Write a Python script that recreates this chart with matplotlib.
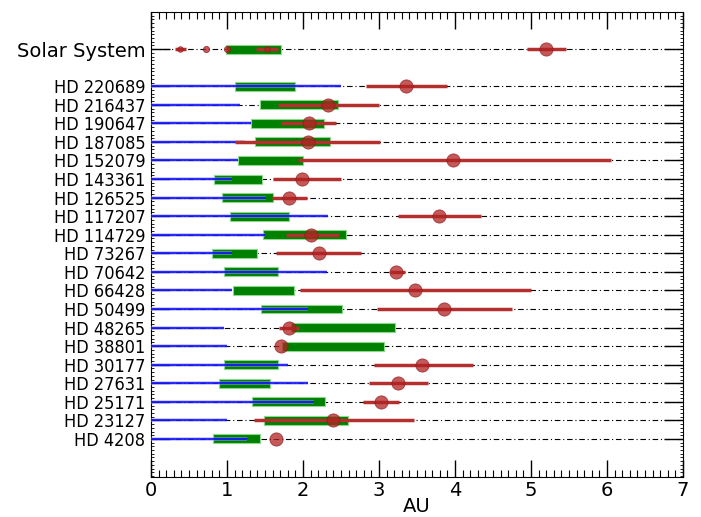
import matplotlib
matplotlib.use("Agg")
import matplotlib.pyplot as plt
from matplotlib.ticker import MultipleLocator
from matplotlib import font_manager

# ---- data (bottom to top) ----
stars = ["HD 4208", "HD 23127", "HD 25171", "HD 27631", "HD 30177", "HD 38801",
         "HD 48265", "HD 50499", "HD 66428", "HD 70642", "HD 73267", "HD 114729",
         "HD 117207", "HD 126525", "HD 143361", "HD 152079", "HD 187085",
         "HD 190647", "HD 216437", "HD 220689", "Solar System"]
star_y = list(range(1, 21)) + [22]

hz_inner = [0.82, 1.49, 1.33, 0.90, 0.96, 1.72, 1.84, 1.45, 1.08, 0.96, 0.80, 1.48,
            1.04, 0.93, 0.83, 1.15, 1.37, 1.31, 1.43, 1.10, 0.99]
hz_outer = [1.43, 2.59, 2.29, 1.56, 1.67, 3.07, 3.21, 2.51, 1.88, 1.67, 1.40, 2.56,
            1.81, 1.61, 1.46, 2.00, 2.36, 2.28, 2.46, 1.89, 1.71]
# inner stable region extent (blue), exoplanet systems only
blue_outer = [1.26, 1.00, 2.15, 2.06, 1.80, 1.00, 0.96, 2.06, 1.06, 2.31, 1.06, 1.50,
              2.33, 1.51, 1.06, 1.15, 1.24, 1.31, 1.17, 2.50]

# planets: row index, semi-major axis, periastron, apastron, marker size
planet_row = [0, 1, 2, 3, 4, 5, 6, 7, 8, 9, 10, 11, 12, 13, 14, 15, 16, 17, 18, 19,
              20, 20, 20, 20, 20]
planet_a = [1.65, 2.40, 3.02, 3.25, 3.57, 1.71, 1.82, 3.86, 3.47, 3.23, 2.21, 2.11,
            3.79, 1.82, 1.99, 3.98, 2.06, 2.08, 2.33, 3.36,
            0.387, 0.723, 1.00, 1.524, 5.20]
planet_peri = [1.65, 1.36, 2.79, 2.87, 2.93, 1.71, 1.68, 2.98, 1.96, 3.14, 1.64, 1.77,
               3.25, 1.59, 1.61, 1.93, 1.10, 1.71, 1.67, 2.83,
               0.31, 0.718, 0.983, 1.38, 4.95]
planet_apo = [1.65, 3.46, 3.26, 3.64, 4.24, 1.71, 1.95, 4.75, 5.00, 3.34, 2.76, 2.47,
              4.34, 2.05, 2.50, 6.05, 3.01, 2.44, 3.00, 3.90,
              0.467, 0.728, 1.017, 1.67, 5.46]
planet_ms = [9.5] * 20 + [4.0, 4.5, 4.5, 4.0, 9.5]

red = "#b22222"
line_red = "#b3302f"

fig = plt.figure(figsize=(7.01, 5.17), dpi=100)
ax = fig.add_axes([0.2154, 0.0774, 0.7589, 0.8994])

# dash-dot guide lines
for y in star_y:
    ax.plot([0, 7], [y, y], ls=(0, (5, 2.5, 1, 2.5)), color="black", lw=0.8,
            zorder=1)

# habitable zones
for y, a, b in zip(star_y, hz_inner, hz_outer):
    ax.barh(y, b - a, left=a, height=0.48, color="green",
            edgecolor=(0.55, 0.85, 0.55), lw=0.8, zorder=2)

# blue stable regions
for y, b in zip(star_y[:20], blue_outer):
    ax.plot([0, b], [y, y], color=(0.6, 0.6, 1.0), lw=2.6, alpha=0.6, zorder=3,
            solid_capstyle="butt")
    ax.plot([0, b], [y, y], color="blue", lw=1.1, zorder=3.1,
            solid_capstyle="butt")

# planets
for r, a, p, q, ms in zip(planet_row, planet_a, planet_peri, planet_apo, planet_ms):
    y = star_y[r]
    if q > p:
        ax.plot([p, q], [y, y], color=line_red, lw=2.5, zorder=4,
                solid_capstyle="butt")
    ax.plot(a, y, "o", ms=ms, mfc=red, mec="#8b1a1a", mew=0.6, alpha=0.75,
            zorder=5)

ax.set_xlim(0, 7)
ax.set_ylim(-1.05, 24)
ax.set_yticks(star_y)
ax.set_yticklabels(stars)
cond = font_manager.FontProperties(family="DejaVu Sans", stretch="condensed",
                                   size=13)
for lab in ax.get_yticklabels():
    if lab.get_text() == "Solar System":
        lab.set_fontsize(14)
    else:
        lab.set_fontproperties(cond)
ax.xaxis.set_major_locator(MultipleLocator(1))
ax.xaxis.set_minor_locator(MultipleLocator(0.1))
ax.yaxis.set_minor_locator(MultipleLocator(0.2))
ax.tick_params(axis="x", which="major", direction="in", top=True, length=12,
               width=1, labelsize=14, pad=3)
ax.tick_params(axis="x", which="minor", direction="in", top=True, length=5,
               width=0.8)
ax.tick_params(axis="y", which="major", direction="in", right=True, length=14,
               width=1, pad=4)
ax.tick_params(axis="y", which="minor", direction="in", right=True, length=2,
               width=0.6)
ax.set_xlabel("AU", fontsize=14, labelpad=-2)

fig.savefig("out.png", dpi=100)
